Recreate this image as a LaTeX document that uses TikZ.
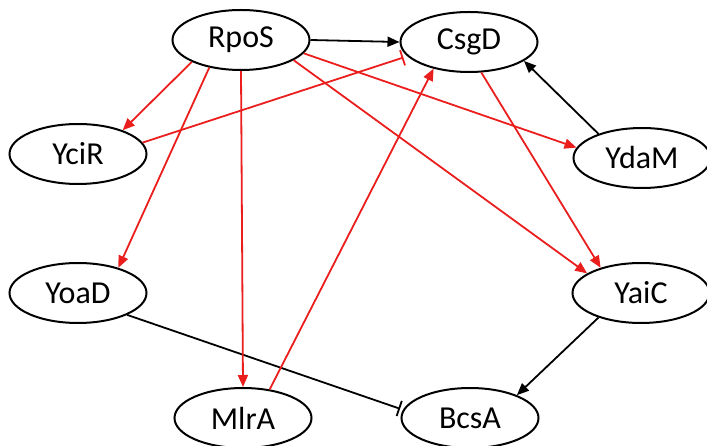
\documentclass[tikz,border=0pt]{standalone}
\usepackage{fontspec}
\setmainfont{Carlito}
\usetikzlibrary{shapes.geometric,arrows.meta,calc}
\begin{document}
\begin{tikzpicture}[x=1pt,y=-1pt,
  gene/.style={ellipse,draw=black,line width=2pt,minimum width=137pt,minimum height=60pt,inner sep=0pt,font=\fontsize{32}{33}\selectfont},
  act/.style={line width=1.8pt,-{Triangle[length=12pt,width=10pt]}},
  inh/.style={line width=1.8pt},
  redl/.style={draw={rgb,255:red,235;green,30;blue,30}}]
\useasboundingbox (0,0) rectangle (707,446);
\node[gene] (RpoS) at (241,40) {RpoS};
\node[gene] (CsgD) at (469,42) {CsgD};
\node[gene] (YciR) at (78,154) {YciR};
\node[gene] (YdaM) at (642,158) {YdaM};
\node[gene] (YoaD) at (78,293) {YoaD};
\node[gene] (YaiC) at (641,293) {YaiC};
\node[gene] (MlrA) at (243,418) {MlrA};
\node[gene] (BcsA) at (470,418) {BcsA};
% black
\draw[act] (RpoS.east) -- (CsgD.west);
\draw[act] (YdaM.151) -- (CsgD.-19);
\draw[act] (YaiC.210) -- (BcsA.26);
\coordinate (s1) at (YoaD.-24);
\coordinate (e1) at ($(BcsA.173)!4pt!(s1)$);
\draw[inh] (s1) -- (e1);
\draw[inh] ($(e1)!8pt!90:(s1)$) -- ($(e1)!8pt!-90:(s1)$);
% red
\coordinate (s2) at (YciR.10);
\coordinate (e2) at ($(CsgD.193)!5pt!(s2)$);
\draw[inh,redl] (s2) -- (e2);
\draw[inh,redl] ($(e2)!8pt!90:(s2)$) -- ($(e2)!8pt!-90:(s2)$);
\draw[act,redl] (MlrA.47) -- (CsgD.217);
\draw[act,redl] (RpoS.204) -- (YciR.28);
\draw[act,redl] (RpoS.221) -- (YoaD.32);
\draw[act,redl] (RpoS.south) -- (MlrA.north);
\draw[act,redl] (RpoS.-12) -- (YdaM.171);
\draw[act,redl] (RpoS.-21) -- (YaiC.160);
\draw[act,redl] (CsgD.-68) -- (YaiC.148);
\end{tikzpicture}
\end{document}
